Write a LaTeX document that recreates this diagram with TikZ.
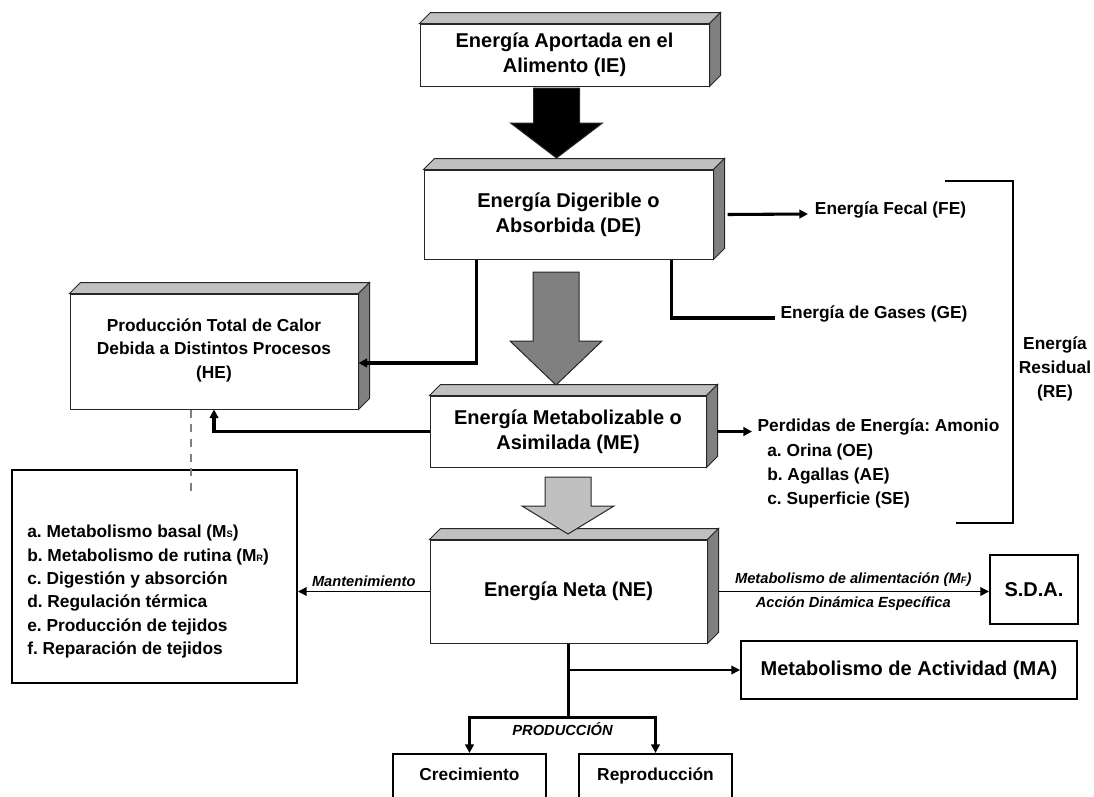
\documentclass[tikz,border=0pt]{standalone}
\usepackage{fontspec}
\setmainfont{Liberation Sans}
\usetikzlibrary{arrows.meta,positioning}

\definecolor{grisclaro}{RGB}{192,192,192}
\definecolor{grisoscuro}{RGB}{128,128,128}

% caras superior y lateral de una caja en relieve
\newcommand\caras[1]{%
  \filldraw[fill=grisclaro, draw=black!85, line width=0.75pt] (#1.north west) -- ++(11,-11) -- ([shift={(11,-11)}]#1.north east) -- (#1.north east) -- cycle;
  \filldraw[fill=grisoscuro, draw=black!85, line width=0.75pt] (#1.north east) -- ([shift={(11,-11)}]#1.north east) -- ([shift={(11,-11)}]#1.south east) -- (#1.south east) -- cycle;}
% flecha gruesa: color, x centro, y inicio, y cabeza, y punta
\newcommand\flechota[5]{%
  \filldraw[fill=#1, draw=black!85, line width=0.75pt] (#2-23,#3) -- (#2+23,#3) -- (#2+23,#4) -- (#2+46,#4) -- (#2,#5) -- (#2-46,#4) -- (#2-23,#4) -- cycle;}
% subindice pequeno
\newcommand\subi[1]{{\fontsize{7}{7}\selectfont #1}}

\tikzset{
  tam/.style 2 args={minimum width=#1*0.75pt, minimum height=#2*0.75pt},
  caja/.style={draw=black!85, line width=0.75pt, fill=white, inner sep=0pt, align=center,
    font=\bfseries\fontsize{15}{19}\selectfont},
  cajaplana/.style={draw, line width=1.5pt, fill=white, inner sep=0pt, align=center},
  gruesa/.style={line width=2.3pt},
  fina/.style={line width=1.1pt},
  punta/.style={-{Triangle[length=6.5pt,width=6.5pt]}},
  etiq/.style={font=\bfseries\fontsize{13}{17.5}\selectfont, inner sep=0pt},
  etiqit/.style={font=\bfseries\itshape\fontsize{11}{13}\selectfont},
}

\begin{document}
\frenchspacing
\begin{tikzpicture}[x=0.75pt,y=-0.75pt]
  \clip (0,0) rectangle (1094,796);

  %%% cajas en relieve
  \node[caja, tam={289}{62}] (ie) at (564.5,55) {Energía Aportada en el\\Alimento (IE)};
  \node[caja, tam={289}{89}] (de) at (568.5,214.5) {Energía Digerible o\\Absorbida (DE)};
  \node[caja, tam={288}{115}, font=\bfseries\fontsize{13}{17.6}\selectfont] (he) at (214,351.5) {\mbox{}\\[-10pt]Producción Total de Calor\\Debida a Distintos Procesos\\(HE)};
  \node[caja, tam={276}{71}] (me) at (568,431.5) {Energía Metabolizable o\\Asimilada (ME)};
  \node[caja, tam={277}{103}] (ne) at (568.5,591.5) {Energía Neta (NE)};
  \caras{ie}
  \caras{de}
  \caras{he}
  \caras{me}
  \caras{ne}

  %%% flechas gruesas
  \flechota{black}{556.5}{88}{123}{158}
  \flechota{grisoscuro}{556}{272}{341}{385}
  \flechota{grisclaro}{568}{477}{506}{534}

  %%% cajas planas
  \node[cajaplana, tam={285}{213}] (mant) at (154.5,576.5) {};
  \node[etiq, anchor=north west, align=left] (mantxt) at (27,525)
    {a. Metabolismo basal (M\subi{S})\\b. Metabolismo de rutina (M\subi{R})\\c. Digestión y absorción\\d. Regulación térmica\\e. Producción de tejidos\\f. Reparación de tejidos};
  \node[cajaplana, tam={88}{69}, font=\bfseries\fontsize{15}{19}\selectfont] (sda) at (1034,589.5) {S.D.A.};
  \node[cajaplana, tam={336}{58}, font=\bfseries\fontsize{15}{19}\selectfont] (ma) at (909,670) {Metabolismo de Actividad (MA)};
  \node[cajaplana, tam={153}{44}, etiq, text height=9.5pt, text depth=2.7pt] (crec) at (469.5,776) {Crecimiento};
  \node[cajaplana, tam={153}{44}, etiq, text height=9.5pt, text depth=2.7pt] (repr) at (655.5,776) {Reproducción};

  %%% perdidas a la derecha
  \node[etiq, anchor=base west, inner xsep=5pt] (fe) at (808,214) {Energía Fecal (FE)};
  \node[etiq, anchor=base west, inner xsep=4pt] (ge) at (775,318) {Energía de Gases (GE)};
  \node[etiq, anchor=base west, inner xsep=4pt] (per) at (752,431.5) {Perdidas de Energía: Amonio};
  \node[etiq, anchor=north west, align=left, font=\bfseries\fontsize{13}{18}\selectfont] (peritems) at (767,444)
    {a. Orina (OE)\\b. Agallas (AE)\\c. Superficie (SE)};
  \node[etiq, align=center, font=\bfseries\fontsize{13}{18}\selectfont] (re) at (1055,369) {Energía\\Residual\\(RE)};
  \draw[line width=1.5pt] (945,181) -| (1013,523) -- (956,523);

  %%% conectores
  \draw[gruesa, punta] ([shift={(14,0)}]de.east) -- (fe.base west);
  \draw[gruesa] ([shift={(248,0)}]de.south west) |- (ge.base west);
  \draw[gruesa, punta] ([shift={(53,0)}]de.south west) |- ([shift={(0,11.5)}]he.east);
  \draw[gruesa, punta] (me.west) -| (he.south);
  \draw[gruesa, punta] ([shift={(10,0)}]me.east) -- (per.base west);
  \draw[grisoscuro, line width=0.9pt, dash pattern=on 6pt off 5pt] ([shift={(-23,0)}]he.south) -- ++(0,81);

  \draw[fina, punta] (ne.west) -- (ne.west -| mant.east)
    node[midway, above, etiqit] (mantlab) {Mantenimiento};
  \draw[fina, punta] ([shift={(10,0)}]ne.east) -- (ne.east -| sda.west)
    node[midway, above, etiqit] (mflab) {Metabolismo de alimentación (M\subi{F})}
    node[midway, below, etiqit] (adelab) {Acción Dinámica Específica};

  \draw[gruesa] (ne.south) -- ++(0,74) coordinate (bif);
  \draw[fina, punta] (ne.south |- ma.west) -- (ma.west);
  \draw[gruesa, punta] (bif) -| (crec.north);
  \draw[gruesa, punta] (bif) -| (repr.north);
  \node[etiqit, below] (prod) at ([shift={(-6,0)}]bif) {PRODUCCIÓN};
\end{tikzpicture}
\end{document}
